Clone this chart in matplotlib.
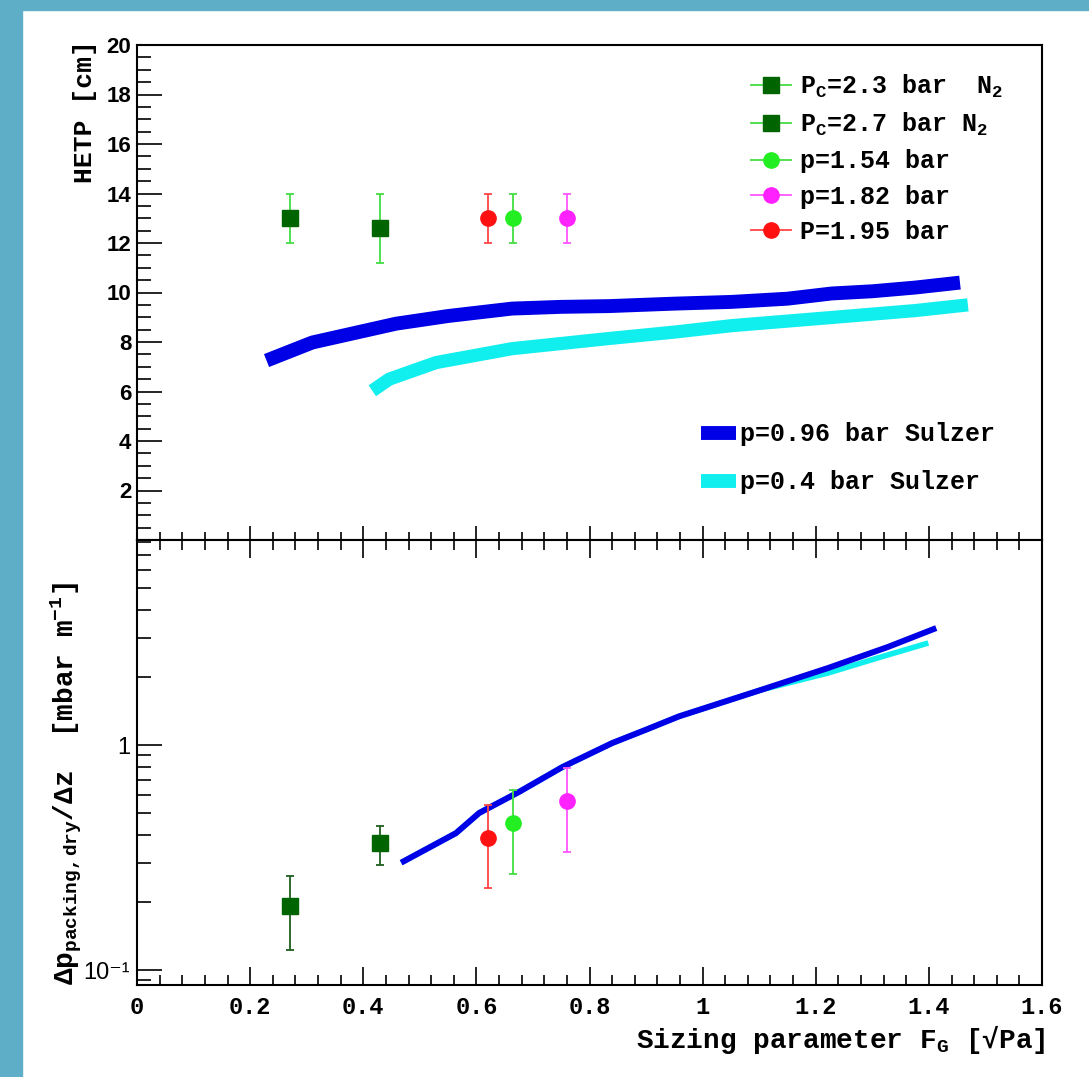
import matplotlib
matplotlib.use('Agg')
import matplotlib.pyplot as plt
import matplotlib.ticker as ticker
from matplotlib.lines import Line2D
from matplotlib.patches import Rectangle

plt.rcParams['font.family'] = ['Liberation Mono', 'DejaVu Sans Mono']
plt.rcParams['font.weight'] = 'bold'
plt.rcParams['mathtext.fontset'] = 'custom'
plt.rcParams['mathtext.rm'] = 'Liberation Mono:bold'
plt.rcParams['mathtext.it'] = 'Liberation Mono:bold'
plt.rcParams['mathtext.bf'] = 'Liberation Mono:bold'

# measured points (HETP and dry pressure drop)
labels = ['P$_{\\mathrm{C}}$=2.3 bar  N$_{2}$', 'P$_{\\mathrm{C}}$=2.7 bar N$_{2}$',
          'p=1.54 bar', 'p=1.82 bar', 'P=1.95 bar']
markers = ['s', 's', 'o', 'o', 'o']
mcolors = ['#006400', '#006400', '#22ee22', '#ff22ff', '#ff1111']
ecolors = ['#44dd44', '#44dd44', '#44dd44', '#ff55ff', '#ff4444']
fg = [0.27, 0.43, 0.665, 0.76, 0.62]
hetp = [13.0, 12.6, 13.0, 13.0, 13.0]
hetp_err = [1.0, 1.4, 1.0, 1.0, 1.0]
dp = [0.192, 0.367, 0.45, 0.564, 0.386]
dp_lo = [0.123, 0.293, 0.267, 0.334, 0.231]
dp_hi = [0.262, 0.436, 0.631, 0.79, 0.541]

# Sulzer curves
fg_096_top = [0.229, 0.31, 0.458, 0.55, 0.663, 0.75, 0.834, 0.95, 1.051, 1.15, 1.228, 1.30, 1.376, 1.455]
hetp_096 = [7.25, 7.98, 8.74, 9.05, 9.35, 9.42, 9.45, 9.55, 9.62, 9.75, 9.96, 10.05, 10.2, 10.4]
fg_04_top = [0.416, 0.446, 0.529, 0.663, 0.834, 0.95, 1.051, 1.228, 1.376, 1.469]
hetp_04 = [6.03, 6.5, 7.17, 7.73, 8.14, 8.4, 8.66, 8.99, 9.27, 9.5]

fg_096_dp = [0.467, 0.564, 0.605, 0.675, 0.752, 0.84, 0.9, 0.958, 1.104, 1.222, 1.328, 1.413]
dp_096 = [0.30, 0.406, 0.499, 0.618, 0.798, 1.02, 1.17, 1.34, 1.76, 2.2, 2.73, 3.31]
fg_04_dp = [0.467, 0.564, 0.605, 0.675, 0.752, 0.84, 0.9, 0.958, 1.104, 1.222, 1.31, 1.399]
dp_04 = [0.30, 0.406, 0.499, 0.618, 0.798, 1.02, 1.17, 1.34, 1.76, 2.09, 2.44, 2.84]

sulzer_labels = ['p=0.96 bar Sulzer', 'p=0.4 bar Sulzer']
xticks = [0, 0.2, 0.4, 0.6, 0.8, 1.0, 1.2, 1.4, 1.6]
xtick_labels = ['0', '0.2', '0.4', '0.6', '0.8', '1', '1.2', '1.4', '1.6']

W, H = 1089, 1077
fig = plt.figure(figsize=(W / 100, H / 100), dpi=100)
fig.patches.append(Rectangle((0, 0), 22 / W, 1, transform=fig.transFigure, color='#5eaec8', zorder=0))
fig.patches.append(Rectangle((0, 1 - 10 / H), 1, 10 / H, transform=fig.transFigure, color='#5eaec8', zorder=0))

left, right = 137 / W, 1042 / W
ymid = 1 - 540 / H
ax1 = fig.add_axes([left, ymid, right - left, (1 - 45 / H) - ymid])
ax2 = fig.add_axes([left, 1 - 985 / H, right - left, ymid - (1 - 985 / H)])

for ax in (ax1, ax2):
    for s in ax.spines.values():
        s.set_linewidth(1.5)
    ax.set_xlim(0, 1.6)
    ax.xaxis.set_major_locator(ticker.FixedLocator(xticks))
    ax.xaxis.set_minor_locator(ticker.MultipleLocator(0.04))

# top panel
ax1.plot(fg_096_top, hetp_096, color='#0000e6', lw=10, solid_capstyle='butt', zorder=2)
ax1.plot(fg_04_top, hetp_04, color='#11eeee', lw=9.5, solid_capstyle='butt', zorder=2)
for i in range(len(fg)):
    ax1.errorbar(fg[i], hetp[i], yerr=hetp_err[i], fmt=markers[i], ms=11, mfc=mcolors[i], mec=mcolors[i],
                 ecolor=ecolors[i], elinewidth=1.3, capsize=3, capthick=1.3, zorder=3)
ax1.set_ylim(0, 20)
ax1.yaxis.set_major_locator(ticker.FixedLocator([2, 4, 6, 8, 10, 12, 14, 16, 18, 20]))
ax1.yaxis.set_minor_locator(ticker.MultipleLocator(0.5))
ax1.tick_params(axis='y', which='major', direction='in', length=18, width=1.2, labelsize=16, pad=4)
ax1.tick_params(axis='y', which='minor', direction='in', length=10, width=1.2)
ax1.tick_params(axis='x', which='major', direction='in', length=10, width=1.2, labelbottom=False)
ax1.tick_params(axis='x', which='minor', direction='in', length=6, width=1.2)
for t in ax1.get_yticklabels():
    t.set_fontfamily('Liberation Sans')
    t.set_fontweight('bold')

h1 = [Line2D([], [], color=ecolors[i], lw=1.3, marker=markers[i], ms=11, mfc=mcolors[i], mec=mcolors[i])
      for i in range(len(fg))]
fig.legend(h1, labels, loc='upper left', bbox_to_anchor=(738 / W, 1 - 60 / H), frameon=False,
           fontsize=18, handlelength=1.6, handletextpad=0.4, labelspacing=0.45, borderpad=0)

h2 = [Line2D([], [], color='#0000e6', lw=10, solid_capstyle='butt'),
      Line2D([], [], color='#11eeee', lw=10, solid_capstyle='butt')]
fig.legend(h2, sulzer_labels, loc='upper left', bbox_to_anchor=(688 / W, 1 - 410 / H), frameon=False,
           fontsize=18, handlelength=1.4, handletextpad=0.2, labelspacing=0.95, borderpad=0)

# bottom panel
ax2.set_yscale('log')
ax2.plot(fg_04_dp, dp_04, color='#11eeee', lw=4, solid_capstyle='butt', zorder=2)
ax2.plot(fg_096_dp, dp_096, color='#0000e6', lw=4.3, solid_capstyle='butt', zorder=2)
for i in range(len(fg)):
    ax2.errorbar(fg[i], dp[i], yerr=[[dp[i] - dp_lo[i]], [dp_hi[i] - dp[i]]], fmt=markers[i], ms=11,
                 mfc=mcolors[i], mec=mcolors[i], ecolor=ecolors[i] if i > 1 else '#1f5f1f',
                 elinewidth=1.3, capsize=3, capthick=1.3, zorder=3)
ax2.set_ylim(0.0858, 8.15)
ax2.yaxis.set_major_locator(ticker.FixedLocator([0.1, 1]))
ax2.yaxis.set_major_formatter(ticker.FixedFormatter(['10⁻¹', '1']))
ax2.yaxis.set_minor_locator(ticker.LogLocator(base=10, subs=range(2, 10)))
ax2.yaxis.set_minor_formatter(ticker.NullFormatter())
ax2.tick_params(axis='y', which='major', direction='in', length=18, width=1.2, labelsize=17, pad=5)
ax2.tick_params(axis='y', which='minor', direction='in', length=10, width=1.2)
ax2.tick_params(axis='x', which='major', direction='in', length=13, width=1.2, top=True, labelsize=17, pad=8)
ax2.tick_params(axis='x', which='minor', direction='in', length=7, width=1.2, top=True)
ax2.xaxis.set_major_formatter(ticker.FixedFormatter(xtick_labels))
for t in ax2.get_yticklabels():
    t.set_fontfamily(['Liberation Sans', 'DejaVu Sans'])
    t.set_fontweight('normal')

fig.text(85 / W, 1 - 40 / H, 'HETP [cm]', rotation=90, ha='center', va='top', fontsize=19)
fig.text(66 / W, 1 - 985 / H, 'Δp$_{\\mathrm{packing,dry}}$/Δz  [mbar m$^{-1}$]', rotation=90,
         ha='center', va='bottom', fontsize=20)
fig.text(1045 / W, 1 - 1040 / H, 'Sizing parameter F$_{\\mathrm{G}}$ [√Pa]', ha='right', va='center',
         fontsize=20)

fig.savefig('out.png', dpi=100)
